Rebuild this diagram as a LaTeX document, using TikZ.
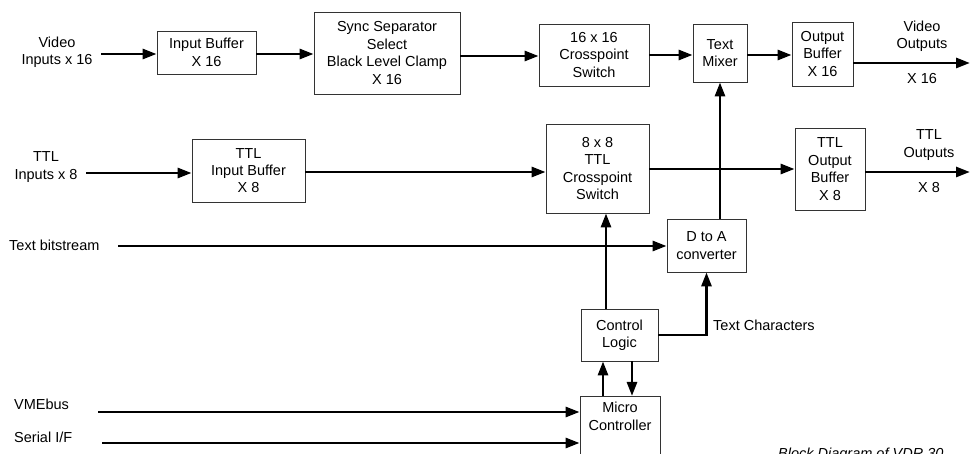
\documentclass[tikz,border=0pt]{standalone}
\usepackage{fontspec}
\setmainfont{Liberation Sans}
\usetikzlibrary{arrows.meta,positioning}
\begin{document}
\begin{tikzpicture}[x=1pt,y=-1pt,
  font=\fontsize{14.5}{17.4}\selectfont,
  box/.style={draw=black!80, line width=0.9pt, align=center, inner sep=1pt},
  txt/.style={align=center, inner sep=0pt},
  arr/.style={line width=2.8pt, -{Triangle[length=14pt,width=10pt]}},
  ln/.style={line width=2.8pt}]
\useasboundingbox (0,0) rectangle (970,454);
% boxes
\node[box, minimum width=99pt, minimum height=43pt] (ib) at (206.5,52.5) {Input Buffer\\X 16};
\node[box, minimum width=146pt, minimum height=82pt] (sync) at (387,53) {Sync Separator\\Select\\Black Level Clamp\\X 16};
\node[box, minimum width=110pt, minimum height=62pt] (xp16) at (594,55) {16 x 16\\Crosspoint\\Switch};
\node[box, minimum width=54pt, minimum height=58pt] (mix) at (720,53) {Text\\Mixer};
\node[box, minimum width=61pt, minimum height=64pt] (ob) at (822.5,54) {Output\\Buffer\\X 16};
\node[box, minimum width=113pt, minimum height=63pt] (tib) at (248.5,170.5) {TTL\\Input Buffer\\X 8};
\node[box, minimum width=103pt, minimum height=89pt] (xp8) at (597.5,168.5) {8 x 8\\TTL\\Crosspoint\\Switch};
\node[box, minimum width=70pt, minimum height=82pt] (tob) at (830,169) {TTL\\Output\\Buffer\\X 8};
\node[box, minimum width=79pt, minimum height=53pt] (dac) at (706.5,245.5) {D to A\\converter};
\node[box, minimum width=77pt, minimum height=52pt] (ctl) at (619.5,335) {Control\\Logic};
\node[box, anchor=north, minimum width=80pt, minimum height=90pt] (mc) at (620,396) {};
\node[txt, anchor=north] (mct) at (620,402) {Micro\\Controller};
% labels
\node[txt] (vin) at (57,52) {Video\\Inputs x 16};
\node[txt] (tin) at (46,167) {TTL\\Inputs x 8};
\node[txt, anchor=west] (tbs) at (9,245) {Text bitstream};
\node[txt, anchor=west] (vme) at (14,404) {VMEbus};
\node[txt, anchor=west] (ser) at (14,437) {Serial I/F};
\node[txt] (vout) at (922,36) {Video\\Outputs};
\node[txt] (vx) at (922,79) {X 16};
\node[txt] (tout) at (929,145) {TTL\\Outputs};
\node[txt] (tx) at (929,188) {X 8};
\node[txt, anchor=west] (tch) at (713,325) {Text Characters};
\node[txt, anchor=base west, font=\fontsize{14.5}{17.4}\selectfont\itshape] (cap) at (778,459) {Block Diagram of VDR 30};
% coordinates
\coordinate (vinS) at (101,54);
\coordinate (tinS) at (86,173);
\coordinate (tbsS) at (118,246);
\coordinate (vmeS) at (98,412);
\coordinate (serS) at (102,443);
\coordinate (voutE) at (970,63);
\coordinate (toutE) at (970,172);
% connectors
\draw[arr] (vinS) -- (vinS -| ib.west);
\draw[arr] (ib.east |- 0,54) -- (sync.west |- 0,54);
\draw[arr] (sync.east |- 0,56) -- (xp16.west |- 0,56);
\draw[arr] (xp16.east |- 0,55) -- (mix.west |- 0,55);
\draw[arr] (mix.east |- 0,55) -- (ob.west |- 0,55);
\draw[arr] (ob.east |- voutE) -- (voutE);
\draw[arr] (tinS) -- (tinS -| tib.west);
\draw[arr] (tib.east |- 0,172) -- (xp8.west |- 0,172);
\draw[arr] (xp8.east |- 0,169) -- (tob.west |- 0,169);
\draw[arr] (tob.east |- toutE) -- (toutE);
\draw[arr] (mix.south |- dac.north) -- (mix.south);
\draw[arr] (tbsS) -- (tbsS -| dac.west);
\draw[arr] (ctl.north -| 606,0) -- (xp8.south -| 606,0);
\draw[arr] (ctl.east) -| (dac.south);
\draw[arr] (mc.north -| 603,0) -- (ctl.south -| 603,0);
\draw[arr] (ctl.south -| 632,0) -- (mc.north -| 632,0);
\draw[arr] (vmeS) -- (vmeS -| mc.west);
\draw[arr] (serS) -- (serS -| mc.west);
\end{tikzpicture}
\end{document}
